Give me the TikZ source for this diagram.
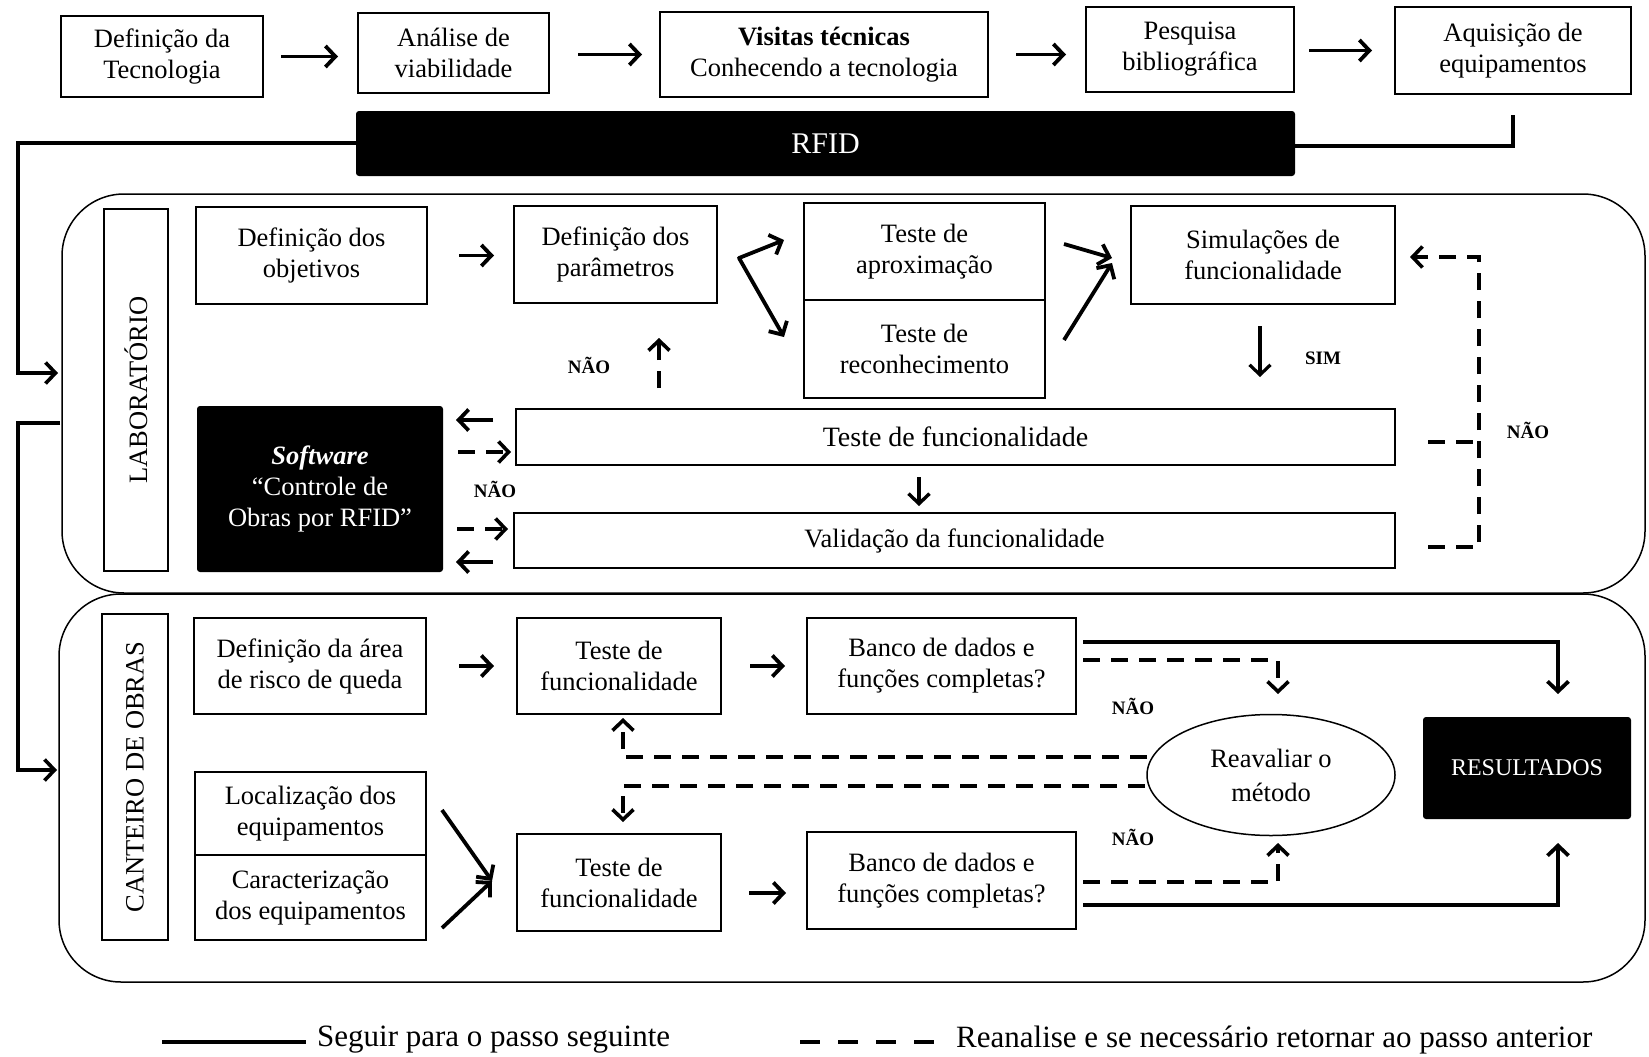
\documentclass[tikz,border=0pt]{standalone}
\usepackage{fontspec}
\setmainfont{Liberation Serif}
\usetikzlibrary{arrows.meta,shapes.geometric}
\begin{document}
\begin{tikzpicture}[x=1pt,y=-1pt,
  >={Straight Barb[length=10pt,width=21pt]},
  base/.style={font=\fontsize{26.5}{31}\selectfont},
  box/.style={draw, line width=2pt, inner sep=0pt, align=center, base},
  blk/.style={fill=black, text=white, rounded corners=3pt, inner sep=0pt, align=center, base},
  cont/.style={draw, line width=1.5pt, rounded corners=62pt, inner sep=0pt},
  arr/.style={line width=3.8pt, ->},
  darr/.style={line width=3.6pt, ->, dash pattern=on 17pt off 11pt},
  dln/.style={line width=3.6pt, dash pattern=on 17pt off 11pt},
  sln/.style={line width=3.6pt},
  lbl/.style={font=\fontsize{19}{22}\selectfont\bfseries, inner sep=0pt},
  leg/.style={font=\fontsize{31}{34}\selectfont, inner sep=0pt, anchor=west},
]
\useasboundingbox (0,0) rectangle (1649,1057);

% containers
\node[cont, minimum width=1583pt, minimum height=399pt] (lab) at (853.5,393.5) {};
\node[cont, minimum width=1586pt, minimum height=388pt] (cant) at (852,788) {};

% top row
\node[box, minimum width=202pt, minimum height=81pt] (defTec) at (162,56.5) {Definição da\\Tecnologia};
\node[box, minimum width=191pt, minimum height=80pt] (analise) at (453.5,53) {Análise de\\viabilidade};
\node[box, minimum width=328pt, minimum height=85pt] (visitas) at (824,54.5) {\textbf{Visitas técnicas}\\Conhecendo a tecnologia};
\node[box, minimum width=208pt, minimum height=85pt] (pesquisa) at (1190,49.5) {Pesquisa\\bibliográfica};
\node[box, minimum width=236pt, minimum height=87pt] (aquis) at (1513,50.5) {Aquisição de\\equipamentos};
\node[blk, minimum width=939pt, minimum height=65pt, font=\fontsize{30}{34}\selectfont] (rfid) at (825.5,143.5) {RFID};

% laboratorio
\node[box, rotate=90, minimum width=362pt, minimum height=64pt] (labL) at (136,390) {LABORATÓRIO};
\node[box, minimum width=231pt, minimum height=97pt] (objetivos) at (311.5,255.5) {Definição dos\\objetivos};
\node[box, minimum width=203pt, minimum height=97pt] (param) at (615.5,254.5) {Definição dos\\parâmetros};
\node[box, minimum width=241pt, minimum height=97pt] (aprox) at (924.5,251.5) {Teste de\\aproximação};
\node[box, minimum width=241pt, minimum height=98pt] (recon) at (924.5,349) {Teste de\\reconhecimento};
\node[box, minimum width=264pt, minimum height=98pt] (simul) at (1263,255) {Simulações de\\funcionalidade};
\node[box, minimum width=879pt, minimum height=56pt, font=\fontsize{28}{32}\selectfont] (testeLab) at (955.5,437) {Teste de funcionalidade};
\node[box, minimum width=881pt, minimum height=55pt] (valid) at (954.5,540.5) {Validação da funcionalidade};
\node[blk, minimum width=246pt, minimum height=166pt] (soft) at (320,489) {\textbf{\textit{Software}}\\“Controle de\\Obras por RFID”};

% canteiro
\node[box, rotate=90, minimum width=326pt, minimum height=66pt] (canL) at (135,777) {CANTEIRO DE OBRAS};
\node[box, minimum width=232pt, minimum height=96pt] (area) at (310,666) {Definição da área\\de risco de queda};
\node[box, minimum width=204pt, minimum height=96pt] (teste1) at (619,666) {Teste de\\funcionalidade};
\node[box, minimum width=269pt, minimum height=96pt] (banco1) at (941.5,666) {Banco de dados e\\funções completas?};
\node[box, minimum width=231pt, minimum height=83pt] (local) at (310.5,813.5) {Localização dos\\equipamentos};
\node[box, minimum width=231pt, minimum height=85pt] (caract) at (310.5,897.5) {Caracterização\\dos equipamentos};
\node[box, minimum width=204pt, minimum height=97pt] (teste2) at (619,882.5) {Teste de\\funcionalidade};
\node[box, minimum width=269pt, minimum height=97pt] (banco2) at (941.5,880.5) {Banco de dados e\\funções completas?};
\node[draw, ellipse, line width=1.5pt, minimum width=248pt, minimum height=121pt, inner sep=0pt, align=center, font=\fontsize{26.5}{34}\selectfont] (reav) at (1271,775) {Reavaliar o\\método};
\node[blk, minimum width=208pt, minimum height=102pt, font=\fontsize{24}{28}\selectfont] (res) at (1527,768) {RESULTADOS};

% labels
\node[lbl] (n1) at (589,365) {NÃO};
\node[lbl] (n2) at (495,489) {NÃO};
\node[lbl] (n3) at (1528,430) {NÃO};
\node[lbl] (n4) at (1133,706) {NÃO};
\node[lbl] (n5) at (1133,837) {NÃO};
\node[lbl] (sim) at (1323,358) {SIM};

% coordinates for free ends
\coordinate (aqS) at (1513,115);
\coordinate (bus1) at (18,373);
\coordinate (labIn) at (58,373);
\coordinate (labOut) at (60,423);
\coordinate (bus2) at (18,770);
\coordinate (canIn) at (57,770);
\coordinate (vA) at (784,240);
\coordinate (vM) at (739,258);
\coordinate (vB) at (784,337);
\coordinate (apS) at (1064,244);
\coordinate (apE) at (1112,258);
\coordinate (reS) at (1064,340);
\coordinate (reE) at (1112,263);
\coordinate (tvS) at (919,477);
\coordinate (tvE) at (919,506);
\coordinate (nuS) at (659,388);
\coordinate (nuE) at (659,338);
\coordinate (sw1S) at (493,420);
\coordinate (sw1E) at (456,420);
\coordinate (sw2S) at (458,452);
\coordinate (sw2E) at (511,452);
\coordinate (sw3S) at (457,529);
\coordinate (sw3E) at (508,529);
\coordinate (sw4S) at (493,562);
\coordinate (sw4E) at (456,562);
\coordinate (rl1) at (1428,547);
\coordinate (rl2) at (1479,547);
\coordinate (rl3) at (1479,257);
\coordinate (rl4) at (1410,257);
\coordinate (rl5) at (1428,442);
\coordinate (rl6) at (1479,442);
\coordinate (b1s) at (1083,642);
\coordinate (b1e) at (1558,694);
\coordinate (b1d) at (1083,660);
\coordinate (b1de) at (1278,694);
\coordinate (e1s) at (1147,757);
\coordinate (e1e) at (623,718);
\coordinate (e2s) at (1145,786);
\coordinate (e2e) at (623,822);
\coordinate (lcS) at (442,810);
\coordinate (ccS) at (442,928);
\coordinate (cvE) at (492,881);
\coordinate (t2S) at (749,893);
\coordinate (t2E) at (786,893);
\coordinate (b2d) at (1083,882);
\coordinate (b2de) at (1278,843);
\coordinate (b2s) at (1083,905);
\coordinate (b2se) at (1558,843);
\coordinate (lg1) at (162,1042);
\coordinate (lg2) at (306,1042);
\coordinate (lg3) at (800,1042);
\coordinate (lg4) at (934,1042);

% top connectors
\draw[arr, shorten <=17pt, shorten >=19pt] (defTec.east) -- (defTec.east -| analise.west);
\draw[arr, shorten <=28pt, shorten >=17pt] (visitas.west -| analise.east) -- (visitas.west);
\draw[arr, shorten <=27pt, shorten >=19pt] (visitas.east) -- (visitas.east -| pesquisa.west);
\draw[arr, shorten <=14pt, shorten >=22pt] (aquis.west -| pesquisa.east) -- (aquis.west);
\draw[sln, line join=miter] (aqS) |- ([yshift=-2.5pt]rfid.east);
\draw[sln, ->] ([yshift=0.5pt]rfid.west) -| (bus1) -- (labIn);
\draw[sln, ->] (labOut) -| (bus2) -- (canIn);

% laboratorio connectors
\draw[arr, shorten <=31pt, shorten >=19pt] (objetivos.east) -- (objetivos.east -| param.west);
\draw[arr, <->, line join=round] (vA) -- (vM) -- (vB);
\draw[arr] (apS) -- (apE);
\draw[arr] (reS) -- (reE);
\draw[arr, line width=3.2pt, shorten <=21pt, shorten >=31pt] ([xshift=-3pt]simul.south) -- ([xshift=-3pt]simul.south |- testeLab.north);
\draw[arr, line width=3.4pt] (tvS) -- (tvE);
\draw[darr] (nuS) -- (nuE);
\draw[arr] (sw1S) -- (sw1E);
\draw[darr] (sw2S) -- (sw2E);
\draw[darr] (sw3S) -- (sw3E);
\draw[arr] (sw4S) -- (sw4E);
\draw[darr] (rl1) -- (rl2) -- (rl3) -- (rl4);
\draw[dln] (rl5) -- (rl6);

% canteiro connectors
\draw[arr, shorten <=32pt, shorten >=22pt] (area.east) -- (teste1.west);
\draw[arr, shorten <=28pt, shorten >=21pt] (teste1.east) -- (banco1.west);
\draw[arr] (b1s) -| (b1e);
\draw[darr] (b1d) -| (b1de);
\draw[darr] (e1s) -| (e1e);
\draw[darr] (e2s) -| (e2e);
\draw[arr] (lcS) -- (cvE);
\draw[arr] (ccS) -- (cvE);
\draw[arr] (t2S) -- (t2E);
\draw[darr] (b2d) -| (b2de);
\draw[arr] (b2s) -| (b2se);

% legend
\draw[line width=3.8pt] (lg1) -- (lg2);
\node[leg] (leg1) at (317,1040) {Seguir para o passo seguinte};
\draw[line width=3.8pt, dash pattern=on 20pt off 18pt] (lg3) -- (lg4);
\node[leg] (leg2) at (956,1040) {Reanalise e se necessário retornar ao passo anterior};
\end{tikzpicture}
\end{document}
